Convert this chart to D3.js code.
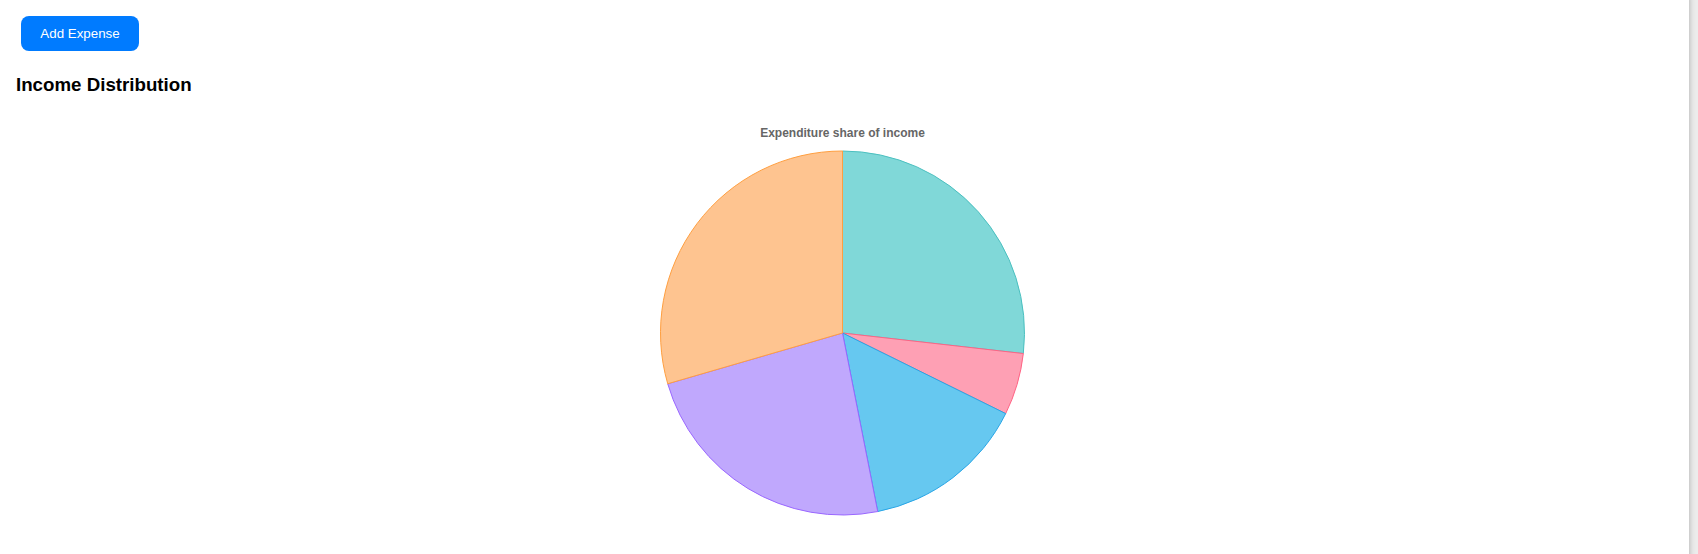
<!DOCTYPE html>
<html>
<head>
<meta charset="utf-8">
<script src="https://cdn.jsdelivr.net/npm/d3@7/dist/d3.min.js"></script>
<style>
  html, body { margin: 0; padding: 0; }
  body { width: 1698px; height: 554px; background: #ececec; overflow: hidden; font-family: "Liberation Sans", Arial, Helvetica, sans-serif; position: relative; }
  #card { position: absolute; left: -10px; top: -10px; width: 1699px; height: 600px; background: #fff; border-radius: 8px; box-shadow: 0 0 6px rgba(0,0,0,0.28); }
  #btn { position: absolute; left: 21px; top: 16px; width: 118px; height: 35px; box-sizing: border-box; background: #007bff; color: #fff; border: none; border-radius: 8px; font-family: "Liberation Sans", Arial, sans-serif; font-size: 13.33px; padding: 0; }
  #title { position: absolute; left: 16px; top: 74px; margin: 0; font-size: 18.72px; font-weight: bold; color: #000; }
  svg { position: absolute; left: 0; top: 0; }
</style>
</head>
<body>
<div id="card"></div>
<button id="btn">Add Expense</button>
<h3 id="title">Income Distribution</h3>
<svg id="chart" width="1698" height="554"></svg>
<script>
const categories = ["Savings", "Entertainment", "Utilities", "Food", "Rent"];
const values = [26.8, 5.5, 14.6, 23.6, 29.5];
const fills = ["#80d8d8", "#fea0b4", "#66c8f0", "#c0a8fd", "#fec490"];
const strokes = ["rgb(75,192,192)", "rgb(255,99,132)", "rgb(40,165,230)", "rgb(153,102,255)", "rgb(255,159,64)"];
const chartTitle = "Expenditure share of income";

const cx = 842.5, cy = 333, r = 182;
const svg = d3.select("#chart");

svg.append("text")
  .attr("x", cx).attr("y", 137.3)
  .attr("text-anchor", "middle")
  .attr("font-family", "'Liberation Sans', Arial, Helvetica, sans-serif")
  .attr("font-size", 12).attr("font-weight", "bold")
  .attr("fill", "#666")
  .text(chartTitle);

const data = categories.map((c, i) => ({ c, v: values[i], i }));
const pie = d3.pie().value(d => d.v).sort(null);
const arc = d3.arc().innerRadius(0).outerRadius(r);

svg.append("g").attr("transform", `translate(${cx},${cy})`)
  .selectAll("path").data(pie(data)).join("path")
  .attr("d", arc)
  .attr("fill", d => fills[d.data.i])
  .attr("stroke", d => strokes[d.data.i])
  .attr("stroke-width", 1)
  .attr("stroke-linejoin", "round");
</script>
</body>
</html>
